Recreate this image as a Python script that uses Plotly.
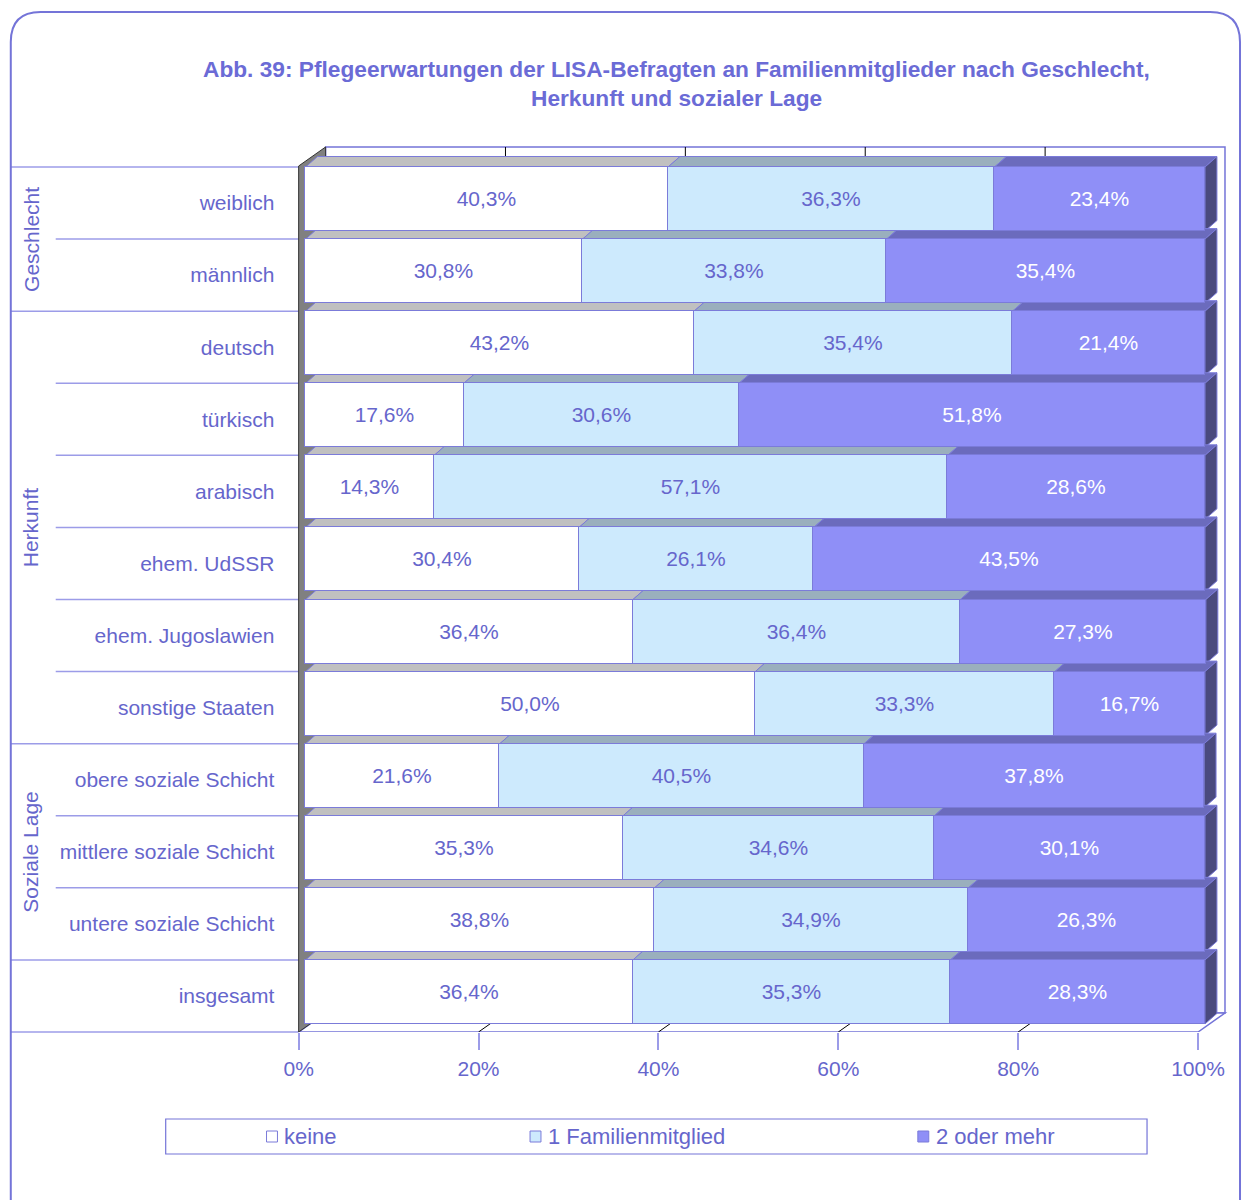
import plotly.graph_objects as go

# ---------------------------------------------------------------- data
categories = [
    "weiblich", "männlich",
    "deutsch", "türkisch", "arabisch", "ehem. UdSSR", "ehem. Jugoslawien", "sonstige Staaten",
    "obere soziale Schicht", "mittlere soziale Schicht", "untere soziale Schicht",
    "insgesamt",
]
keine = [40.3, 30.8, 43.2, 17.6, 14.3, 30.4, 36.4, 50.0, 21.6, 35.3, 38.8, 36.4]
ein_mitglied = [36.3, 33.8, 35.4, 30.6, 57.1, 26.1, 36.4, 33.3, 40.5, 34.6, 34.9, 35.3]
zwei_oder_mehr = [23.4, 35.4, 21.4, 51.8, 28.6, 43.5, 27.3, 16.7, 37.8, 30.1, 26.3, 28.3]
series_names = ["keine", "1 Familienmitglied", "2 oder mehr"]

# category groups: (label, first row, last row)
groups = [("Geschlecht", 0, 1), ("Herkunft", 2, 7), ("Soziale Lage", 8, 10)]

tick_values = [0, 20, 40, 60, 80, 100]
tick_labels = ["0%", "20%", "40%", "60%", "80%", "100%"]

title_lines = [
    "Abb. 39: Pflegeerwartungen der LISA-Befragten an Familienmitglieder nach Geschlecht,",
    "Herkunft und sozialer Lage",
]

# ---------------------------------------------------------------- style
W, H = 1242, 1200
FONT = "Liberation Sans, Arial, Helvetica, sans-serif"
TXT = "#6666cc"
FRAME = "#7474d8"
TABLE_LINE = "#9c9ce8"
EDGE = "#7b7bd9"

front_colors = ["#ffffff", "#cdeafd", "#8f8ff7"]
top_colors = ["#c0c0c0", "#9aafbd", "#6b6bbd"]
side_color = "#4a4a7e"
label_colors = [TXT, TXT, "#ffffff"]

# plot area in pixels, and the scale of the value axis
PLOT_L, PLOT_R, PLOT_T, PLOT_B = 285, 1232, 140, 1032
ROWS_TOP = 167
PX_PER_PCT = 9.045
BAR_ZERO_PX = 300.3        # front face of the bars
FRONT_ZERO_PX = 293.3      # front edge of the floor
BACK_ZERO_PX = 320.4       # back wall
FRAME_L, FRAME_R = 3.8, 1240
TABLE_L, TABLE_INNER_L = 3.8, 49
n = len(categories)
ROW_PX = (PLOT_B - ROWS_TOP) / n
BAR_W = 64 / ROW_PX

x_range = [(PLOT_L - BAR_ZERO_PX) / PX_PER_PCT, (PLOT_R - BAR_ZERO_PX) / PX_PER_PCT]
y_bottom = n - 0.5
y_top = -0.5 - (ROWS_TOP - PLOT_T) / ROW_PX

# depth of the bars and of the box, in data units
DX = 12 / PX_PER_PCT
DY = 10.5 / ROW_PX
FRONT_SHIFT = (FRONT_ZERO_PX - BAR_ZERO_PX) / PX_PER_PCT
BACK_SHIFT = (BACK_ZERO_PX - BAR_ZERO_PX) / PX_PER_PCT
BOX_DY = 19 / ROW_PX


def px(x):
    return x / W


def py(y):
    return 1 - y / H


def fmt(v):
    return f"{v:.1f}%".replace(".", ",")


series = [keine, ein_mitglied, zwei_oder_mehr]
rows = list(range(n))

fig = go.Figure()

for name, vals, fc, lc in zip(series_names, series, front_colors, label_colors):
    fig.add_trace(go.Bar(
        y=rows, x=vals, name=name, orientation="h",
        width=BAR_W, offset=-0.5,
        marker=dict(color=fc, line=dict(color=EDGE, width=1)),
        text=[fmt(v) for v in vals], textposition="inside",
        insidetextanchor="middle", textangle=0, constraintext="none",
        textfont=dict(family=FONT, size=21, color=lc),
        hoverinfo="skip", showlegend=False,
    ))

# invisible trace carrying the front (floor) value axis
fig.add_trace(go.Scatter(
    x=[tick_values[0], tick_values[-1]], y=[0, 0], xaxis="x2", yaxis="y",
    mode="markers", marker=dict(opacity=0), hoverinfo="skip", showlegend=False,
))

shapes = []


def poly(points, fill, line_color=EDGE, width=1, xref="x", yref="y"):
    d = "M " + " L ".join(f"{a},{b}" for a, b in points) + " Z"
    shapes.append(dict(type="path", path=d, xref=xref, yref=yref, layer="below",
                       fillcolor=fill, line=dict(color=line_color, width=width)))


# back wall with grid lines
wall_top = y_top + (147 - PLOT_T) / ROW_PX
floor_back = y_bottom - BOX_DY
poly([(BACK_SHIFT, floor_back), (BACK_SHIFT, wall_top),
      (100 + BACK_SHIFT, wall_top), (100 + BACK_SHIFT, floor_back)], "#ffffff", FRAME, 1.5)
for t in tick_values[1:-1]:
    shapes.append(dict(type="line", xref="x", yref="y", layer="below",
                       x0=t + BACK_SHIFT, x1=t + BACK_SHIFT, y0=wall_top, y1=floor_back,
                       line=dict(color="#000000", width=1)))

# floor
poly([(FRONT_SHIFT, y_bottom), (100 + FRONT_SHIFT, y_bottom),
      (100 + BACK_SHIFT, floor_back), (BACK_SHIFT, floor_back)], "#ffffff", FRAME, 1.5)
for t in tick_values[1:-1]:
    shapes.append(dict(type="line", xref="x", yref="y", layer="below",
                       x0=t + FRONT_SHIFT, x1=t + BACK_SHIFT, y0=y_bottom, y1=floor_back,
                       line=dict(color="#000000", width=1)))

# left wall
left_front_top = -0.5 - 1 / ROW_PX
poly([(FRONT_SHIFT, y_bottom), (FRONT_SHIFT, left_front_top),
      (BACK_SHIFT, left_front_top - BOX_DY), (BACK_SHIFT, floor_back)], "#808080", "#333333", 1)

# top and side faces of the stacked bars
for i in rows:
    top = i - 0.5
    bottom = top + BAR_W
    start = 0.0
    for j, vals in enumerate(series):
        end = start + vals[i]
        poly([(start, top), (end, top), (end + DX, top - DY), (start + DX, top - DY)], top_colors[j])
        start = end
    poly([(start, top), (start + DX, top - DY), (start + DX, bottom - DY), (start, bottom)], side_color)

# table lines of the category column
group_starts = {g[1] for g in groups} | {n - 1}
for i in rows:
    x0 = TABLE_L if i in group_starts else TABLE_INNER_L
    shapes.append(dict(type="line", xref="paper", yref="y", layer="below",
                       x0=px(x0), x1=px(FRONT_ZERO_PX), y0=i - 0.5, y1=i - 0.5,
                       line=dict(color=TABLE_LINE, width=1.5)))
shapes.append(dict(type="line", xref="paper", yref="paper", layer="below",
                   x0=px(TABLE_L), x1=px(FRONT_ZERO_PX), y0=py(PLOT_B), y1=py(PLOT_B),
                   line=dict(color=TABLE_LINE, width=1.5)))

# outer rounded frame
R = 30
shapes.append(dict(
    type="path", xref="paper", yref="paper", layer="above",
    path=(f"M {px(FRAME_L)},{py(1230)} L {px(FRAME_L)},{py(12 + R)} "
          f"Q {px(FRAME_L)},{py(12)} {px(FRAME_L + R)},{py(12)} "
          f"L {px(FRAME_R - R)},{py(12)} Q {px(FRAME_R)},{py(12)} {px(FRAME_R)},{py(12 + R)} "
          f"L {px(FRAME_R)},{py(1230)}"),
    line=dict(color=FRAME, width=2),
))

# legend box and keys
shapes.append(dict(type="rect", xref="paper", yref="paper", layer="above",
                   x0=px(159.6), x1=px(1146.5), y0=py(1154), y1=py(1119),
                   line=dict(color=FRAME, width=1.2), fillcolor="rgba(0,0,0,0)"))
legend_x = [261, 526, 916]
annotations = []
for name, fc, lx in zip(series_names, front_colors, legend_x):
    shapes.append(dict(type="rect", xref="paper", yref="paper", layer="above",
                       x0=px(lx), x1=px(lx + 11), y0=py(1142), y1=py(1131),
                       fillcolor=fc, line=dict(color=EDGE, width=1)))
    annotations.append(dict(xref="paper", yref="paper", x=px(lx + 16), y=py(1136),
                            xanchor="left", yanchor="middle", showarrow=False, text=name,
                            font=dict(family=FONT, size=22, color=TXT)))

# group labels
for label, a, b in groups:
    annotations.append(dict(xref="paper", yref="y", x=px(24), y=(a + b) / 2,
                            xanchor="center", yanchor="middle", showarrow=False,
                            text=label, textangle=-90,
                            font=dict(family=FONT, size=21, color=TXT)))

# title
for k, line in enumerate(title_lines):
    annotations.append(dict(xref="paper", yref="paper", x=px(673), y=py(69 + 29 * k),
                            xanchor="center", yanchor="middle", showarrow=False, text=f"<b>{line}</b>",
                            font=dict(family=FONT, size=22.7, color="#6b6bd6")))

fig.update_layout(
    width=W, height=H,
    margin=dict(l=0, r=0, t=0, b=0),
    paper_bgcolor="#ffffff", plot_bgcolor="rgba(0,0,0,0)",
    barmode="stack", bargap=0,
    showlegend=False,
    font=dict(family=FONT, color=TXT),
    xaxis=dict(domain=[px(PLOT_L), px(PLOT_R)], range=x_range,
               showgrid=False, zeroline=False, showticklabels=False, showline=False, fixedrange=True),
    xaxis2=dict(overlaying="x", anchor="y", side="bottom",
                domain=[px(PLOT_L), px(PLOT_R)],
                range=[x_range[0] - FRONT_SHIFT, x_range[1] - FRONT_SHIFT],
                tickvals=tick_values, ticktext=tick_labels,
                ticks="outside", ticklen=17, tickcolor=TABLE_LINE, tickwidth=1.5,
                ticklabelstandoff=1,
                tickfont=dict(family=FONT, size=21, color=TXT),
                showgrid=False, zeroline=False, showline=False, fixedrange=True),
    yaxis=dict(domain=[py(PLOT_B), py(PLOT_T)], range=[y_bottom, y_top],
               tickvals=rows, ticktext=categories, ticks="",
               ticklabelstandoff=15,
               tickfont=dict(family=FONT, size=21, color=TXT),
               showgrid=False, zeroline=False, showline=False, fixedrange=True),
    shapes=shapes,
    annotations=annotations,
)

fig.write_html("out.html")
